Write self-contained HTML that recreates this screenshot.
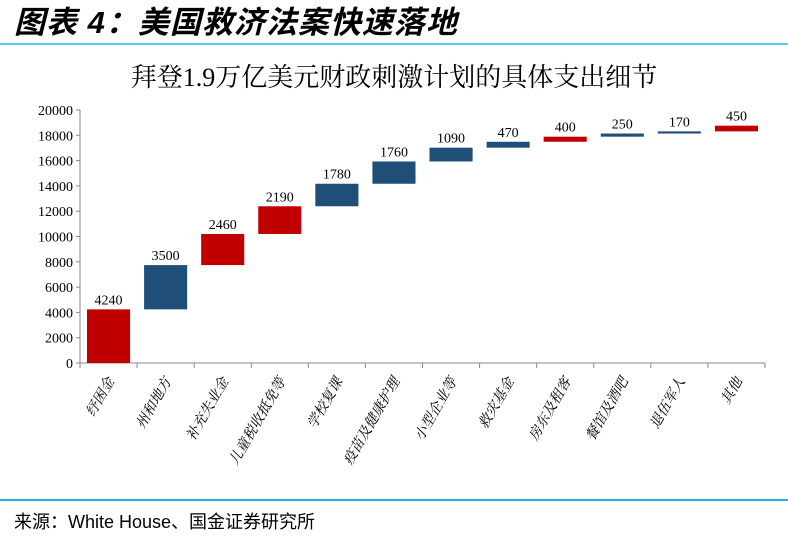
<!DOCTYPE html>
<html><head><meta charset="utf-8"><style>
body{margin:0;width:788px;height:542px;background:#fff;overflow:hidden;position:relative;font-family:"Liberation Serif","Noto Serif CJK SC",serif}
</style></head><body>
<div style="position:absolute;left:14px;top:-3px;font:italic bold 31px 'Liberation Sans','Noto Sans CJK SC',sans-serif;letter-spacing:1px;">图表 4：美国救济法案快速落地</div>
<div style="position:absolute;left:0;top:43px;width:788px;height:2px;background:#5bc8ee"></div>
<div style="position:absolute;left:0;top:499px;width:788px;height:2px;background:#1ab4e8"></div>
<div style="position:absolute;left:14px;top:508px;font:18px 'Liberation Sans','Noto Sans CJK SC',sans-serif;">来源：White House、国金证券研究所</div>
<svg id="chart" width="788" height="542" style="position:absolute;left:0;top:0">
<text x="394" y="86" text-anchor="middle" font-size="26" font-family="Liberation Serif,Noto Serif CJK SC,serif">拜登1.9万亿美元财政刺激计划的具体支出细节</text>
</svg>
<script>
const categories=["纾困金","州和地方","补充失业金","儿童税收抵免等","学校复课","疫苗及健康护理","小型企业等","救灾基金","房东及租客","餐馆及酒吧","退伍军人","其他"];
const values=[4240,3500,2460,2190,1780,1760,1090,470,400,250,170,450];
const isRed=[true,false,true,true,false,false,false,false,true,false,false,true];
const yTicks=[0,2000,4000,6000,8000,10000,12000,14000,16000,18000,20000];
const svg=document.getElementById('chart');
const NS='http://www.w3.org/2000/svg';
const x0=80,x1=765,y0=363,yTop=110,yMax=20000;
const bw=(x1-x0)/categories.length;
const Y=v=>y0-(v/yMax)*(y0-yTop);
const X=i=>x0+i*bw;
function mk(t,a){const e=document.createElementNS(NS,t);for(const k in a)e.setAttribute(k,a[k]);svg.appendChild(e);return e;}
let ax=mk('line',{x1:x0,y1:yTop,x2:x0,y2:y0,stroke:'#888'});


let bx=mk('line',{x1:x0,y1:y0,x2:x1,y2:y0,stroke:'#888'});


yTicks.forEach(v=>{
 const t=mk('line',{x1:x0-4,x2:x0,y1:Y(v),y2:Y(v),stroke:'#888'});
 
 
 const l=mk('text',{x:x0-7,y:Y(v)+5,'text-anchor':'end','font-size':'14'});
 l.textContent=v;
 
 
});
for(let i=0;i<=categories.length;i++){
 const t=mk('line',{x1:X(i),x2:X(i),y1:y0,y2:y0+5,stroke:'#888'});
 
 
}
let cum=0;
values.forEach((v,i)=>{
 const top=Y(cum+v),bot=Y(cum);
 const r=mk('rect',{x:X(i)+7,y:top,width:bw-14,height:bot-top,fill:isRed[i]?'#c00000':'#1f4e79'});
 
 
 const l=mk('text',{x:X(i)+bw/2,y:top-5,'text-anchor':'middle','font-size':'14'});
 l.textContent=v;
 
 
 cum+=v;
 const cx=X(i)+bw/2+6,cy=y0+18;
 const c=mk('text',{x:cx,y:cy,'text-anchor':'end','font-size':'14','font-style':'italic',transform:`rotate(-60 ${cx} ${cy})`,'font-family':'Liberation Serif,Noto Serif CJK SC,serif'});
 c.textContent=categories[i];
 
 
});
</script>
</body></html>
